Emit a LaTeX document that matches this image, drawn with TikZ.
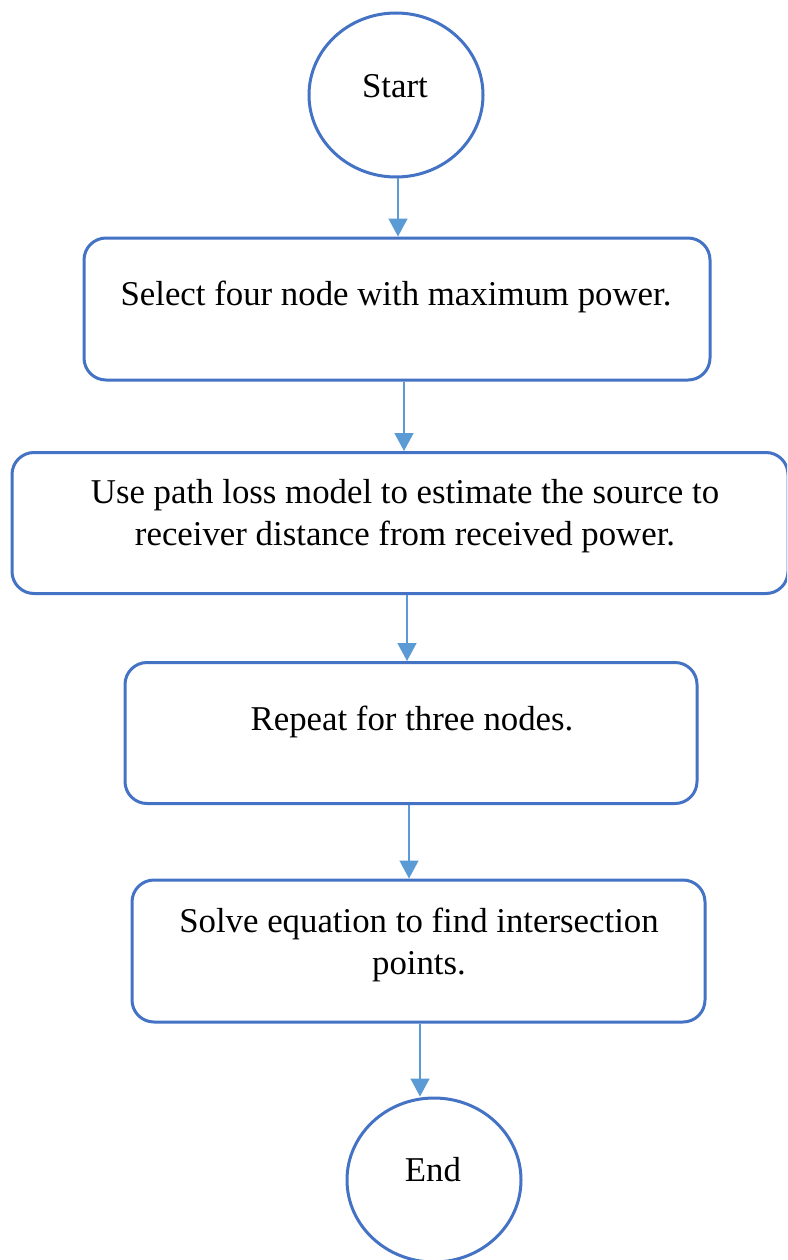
\documentclass[tikz,border=0pt]{standalone}
\usepackage{fontspec}
\setmainfont{Liberation Serif}
\usetikzlibrary{arrows.meta,shapes.geometric,calc}
\definecolor{boxblue}{HTML}{4472C4}
\definecolor{arrowblue}{HTML}{5B9BD5}
\tikzset{
  stepbox/.style={draw=boxblue, line width=3pt, rounded corners=22pt, inner sep=0pt},
  terminal/.style={draw=boxblue, line width=3pt, ellipse, inner sep=0pt,
    minimum width=174pt, minimum height=164pt},
  txt/.style={font=\fontsize{34.8}{42}\selectfont, align=center, inner sep=0pt},
  flow/.style={draw=arrowblue, line width=1.5pt,
    -{Triangle[width=19pt,length=18pt]}}
}
\begin{document}
\begin{tikzpicture}[x=1pt,y=-1pt]
\useasboundingbox (0,0) rectangle (787,1260);
\fill[white] (0,0) rectangle (787,1260);
\begin{scope}
\clip (0,0) rectangle (787,1260);

% terminals
\node[terminal] (start) at (396,95) {};
\node[txt] (tstart) at (395,86) {Start};
\node[terminal] (end) at (434,1180) {};
\node[txt] (tend) at (433,1170) {End};

% process boxes
\node[stepbox, minimum width=626pt, minimum height=142pt] (b1) at (397,309) {};
\node[txt] (t1) at (396,297) {Select four node with maximum power.};

\node[stepbox, minimum width=776pt, minimum height=141pt] (b2) at (400,523) {};
\node[txt] (t2) at (405,516) {Use path loss model to estimate the source to\\receiver distance from received power.};

\node[stepbox, minimum width=572pt, minimum height=141pt] (b3) at (411,733) {};
\node[txt] (t3) at (412,722) {Repeat for three nodes.};

\node[stepbox, minimum width=573pt, minimum height=142pt] (b4) at (418.5,951) {};
\node[txt] (t4) at (419,945) {Solve equation to find intersection\\points.};

% connectors
\draw[flow] ([xshift=2pt]start.south) -- ([xshift=2pt]start.south |- b1.north);
\draw[flow] ([xshift=7pt]b1.south) -- ([xshift=7pt]b1.south |- b2.north);
\draw[flow] ([xshift=7pt]b2.south) -- ([xshift=7pt]b2.south |- b3.north);
\draw[flow] ([xshift=-2pt]b3.south) -- ([xshift=-2pt]b3.south |- b4.north);
\draw[flow] ([xshift=1.5pt]b4.south) -- ([xshift=1.5pt]b4.south |- end.north);
\end{scope}
\end{tikzpicture}
\end{document}
